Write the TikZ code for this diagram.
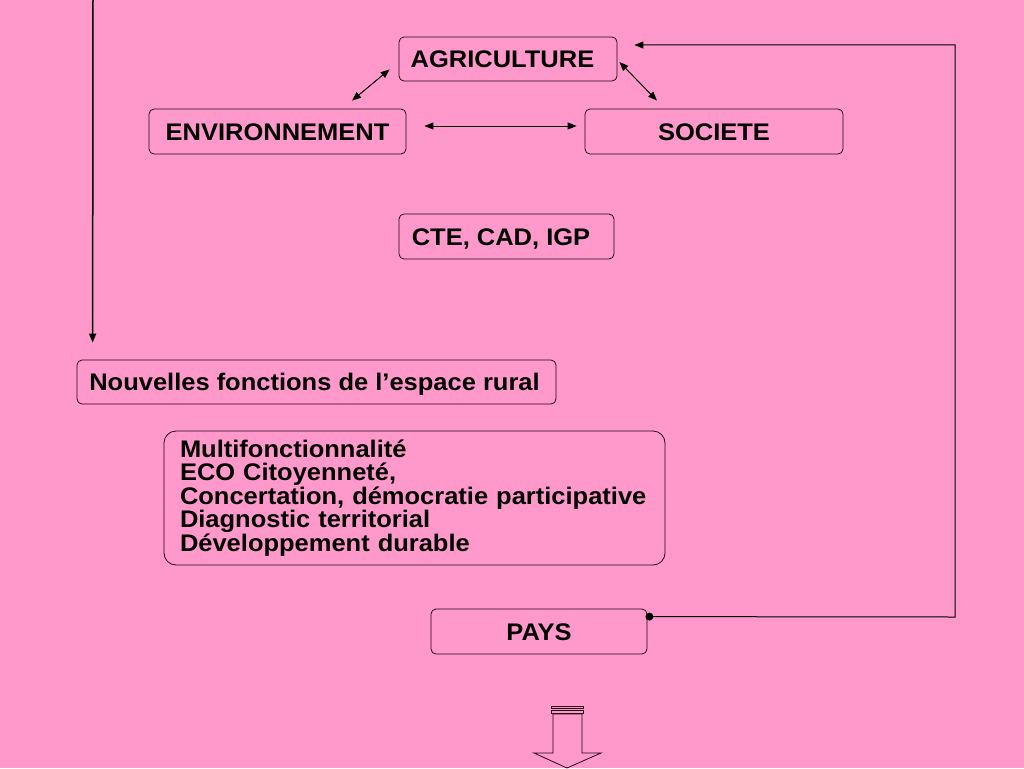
\documentclass[tikz,border=0pt]{standalone}
\usepackage{fontspec}
\setmainfont[FakeStretch=1.062]{Liberation Sans}
\usetikzlibrary{arrows.meta,calc}
\definecolor{bgpink}{HTML}{FF99CC}
\definecolor{edge}{HTML}{220010}
\begin{document}
\begin{tikzpicture}[x=1pt,y=-1pt,
  box/.style={draw=edge,line width=0.8pt,rounded corners=5pt,font=\fontsize{24}{24}\selectfont\bfseries,inner sep=0pt,align=center},
  lbl/.style={box,text height=17.2pt,text depth=0pt},
  conn/.style={line width=1pt,draw=black},
  tip/.style={arrows={-Triangle[length=9pt,width=7pt]}},
  dtip/.style={arrows={Triangle[length=9pt,width=7pt]-Triangle[length=9pt,width=7pt]}}]
\useasboundingbox (0,0) rectangle (1024,768);
\fill[bgpink] (0,0) rectangle (1024,768);

\node[lbl,minimum width=218pt,minimum height=44pt] (agri) at (508,59) {\hspace*{-11pt}AGRICULTURE};
\node[lbl,minimum width=257pt,minimum height=45pt] (env) at (277.5,131.5) {ENVIRONNEMENT};
\node[lbl,minimum width=258pt,minimum height=45pt] (soc) at (714,131.5) {SOCIETE};
\node[lbl,minimum width=215pt,minimum height=45pt] (cte) at (506.5,236.5) {\hspace*{-11pt}CTE, CAD, IGP};
\node[lbl,minimum width=479pt,minimum height=44pt] (nouv) at (316.5,382) {\hspace*{-4pt}Nouvelles fonctions de l’espace rural};
\node[box,rounded corners=12pt,minimum width=501pt,minimum height=134pt,text width=469pt,align=left,font=\fontsize{24}{23.6}\selectfont\bfseries] (multi) at (414.5,498) {Multifonctionnalité\\ECO Citoyenneté,\\Concertation, démocratie participative\\Diagnostic territorial\\Développement durable};
\node[lbl,minimum width=216pt,minimum height=45pt] (pays) at (539,631.5) {PAYS};

% double arrows
\draw[conn,dtip] ([shift={(-9,-12)}]agri.south west) -- ([shift={(74.5,-8)}]env.north);
\draw[conn,dtip] ([shift={(2,3)}]agri.east) -- ([shift={(-57,-8)}]soc.north);
\draw[conn,dtip] ([shift={(18,-5.5)}]env.east) -- ([shift={(-8,-5.5)}]soc.west);

% left vertical arrow
\coordinate (ltop) at (93,0);
\draw[conn,line width=1.5pt,tip] (ltop) -- ([shift={(16,-17)}]nouv.north west);

% loop from PAYS to AGRICULTURE
\coordinate (rc1) at (955,617);
\coordinate (rc2) at (955,45);
\draw[conn,tip] ([shift={(2,8)}]pays.north east) -- (rc1) -- (rc2) -- ([shift={(17,-14)}]agri.east);
\fill[black] ([shift={(2,8)}]pays.north east) circle (4pt);

% block arrow
\draw[edge,line width=0.8pt,fill=bgpink] (551,706) rectangle (583,708);
\draw[edge,line width=0.8pt,fill=bgpink] (551,710) rectangle (583,713);
\draw[edge,line width=0.8pt,fill=bgpink,line join=miter] (553,714) -- (553,753) -- (534,753) -- (567,768) -- (601,753) -- (582,753) -- (582,714) -- cycle;
\end{tikzpicture}
\end{document}
